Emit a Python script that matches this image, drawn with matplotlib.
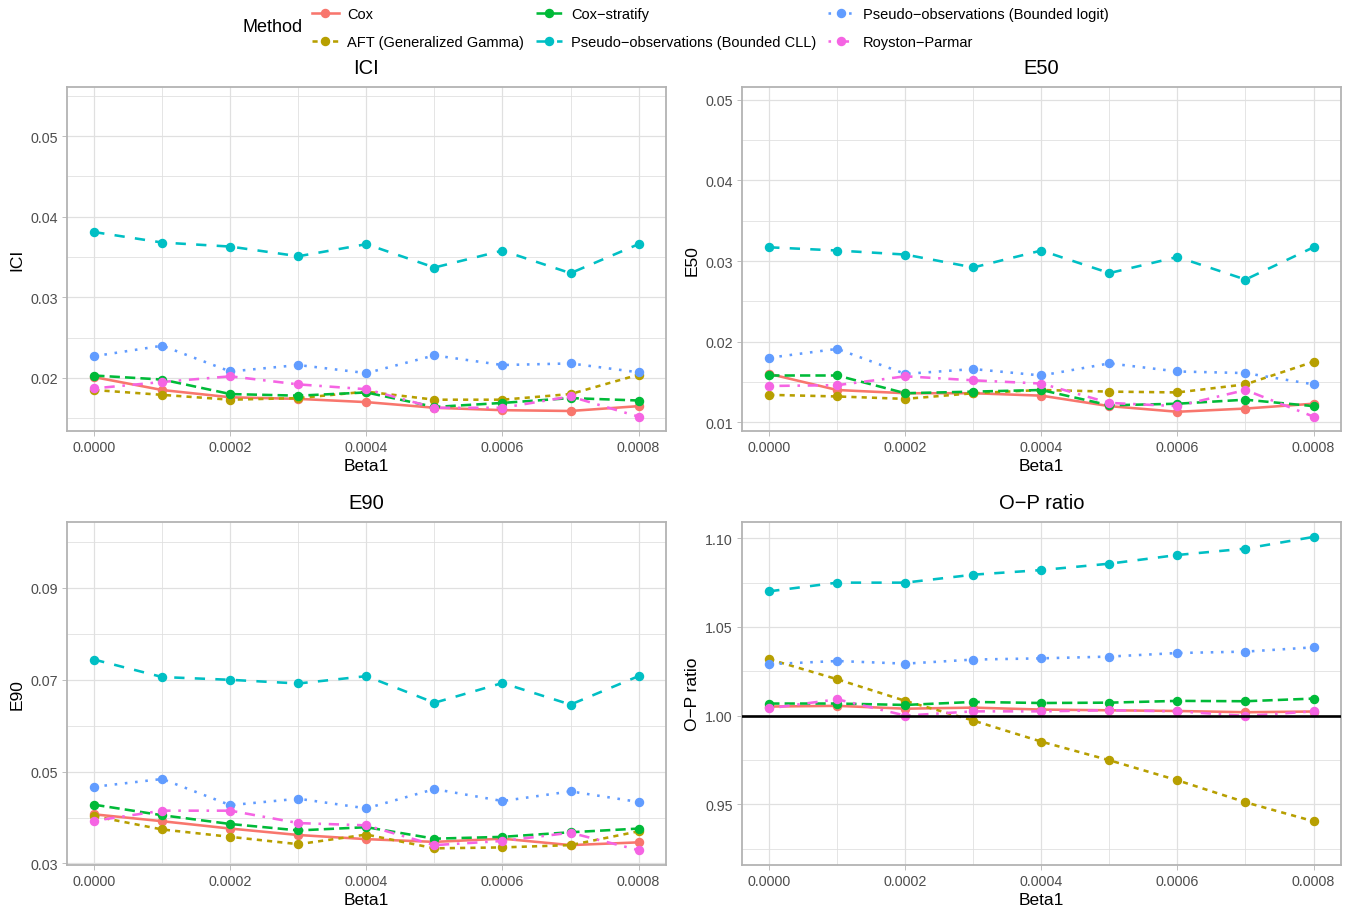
import matplotlib.pyplot as plt
from matplotlib.lines import Line2D
from matplotlib.ticker import MultipleLocator, FormatStrFormatter

plt.rcParams['font.family'] = ['Liberation Sans', 'DejaVu Sans']

# x values (Beta1)
beta1 = [0.0, 0.0001, 0.0002, 0.0003, 0.0004, 0.0005, 0.0006, 0.0007, 0.0008]

methods = ['Cox', 'AFT (Generalized Gamma)', 'Cox\u2212stratify',
           'Pseudo\u2212observations (Bounded CLL)', 'Pseudo\u2212observations (Bounded logit)',
           'Royston\u2212Parmar']
colors = ['#F8766D', '#B79F00', '#00BA38', '#00BFC4', '#619CFF', '#F564E3']
# ggplot default linetypes: solid, 22, 42, 44, 13, 1343
dash_list = [None, (2, 2), (4, 2), (4, 4), (1, 3), (1, 3, 4, 3)]

# rows follow the order of methods
ici = [
    [0.0201, 0.0185, 0.0176, 0.0174, 0.0170, 0.0163, 0.0160, 0.0159, 0.0165],
    [0.0185, 0.0179, 0.0173, 0.0175, 0.0183, 0.0173, 0.0173, 0.0180, 0.0204],
    [0.0203, 0.0198, 0.0180, 0.0178, 0.0182, 0.0164, 0.0169, 0.0175, 0.0172],
    [0.0381, 0.0368, 0.0363, 0.0351, 0.0366, 0.0337, 0.0358, 0.0330, 0.0366],
    [0.0227, 0.0240, 0.0208, 0.0216, 0.0206, 0.0228, 0.0216, 0.0218, 0.0207],
    [0.0187, 0.0195, 0.0202, 0.0192, 0.0186, 0.0163, 0.0163, 0.0177, 0.0152],
]
e50 = [
    [0.0160, 0.0140, 0.0136, 0.0136, 0.0133, 0.0120, 0.0113, 0.0117, 0.0123],
    [0.0134, 0.0132, 0.0129, 0.0136, 0.0140, 0.0138, 0.0137, 0.0147, 0.0175],
    [0.0158, 0.0158, 0.0136, 0.0138, 0.0140, 0.0121, 0.0123, 0.0128, 0.0120],
    [0.0317, 0.0313, 0.0308, 0.0292, 0.0313, 0.0285, 0.0305, 0.0277, 0.0317],
    [0.0180, 0.0191, 0.0160, 0.0166, 0.0158, 0.0173, 0.0163, 0.0161, 0.0147],
    [0.0145, 0.0146, 0.0157, 0.0152, 0.0148, 0.0124, 0.0120, 0.0140, 0.0107],
]
e90 = [
    [0.0407, 0.0392, 0.0376, 0.0362, 0.0353, 0.0347, 0.0354, 0.0340, 0.0346],
    [0.0403, 0.0374, 0.0358, 0.0342, 0.0363, 0.0333, 0.0335, 0.0340, 0.0370],
    [0.0428, 0.0405, 0.0386, 0.0372, 0.0379, 0.0354, 0.0358, 0.0368, 0.0376],
    [0.0744, 0.0706, 0.0700, 0.0692, 0.0708, 0.0650, 0.0693, 0.0646, 0.0708],
    [0.0467, 0.0484, 0.0427, 0.0441, 0.0420, 0.0462, 0.0436, 0.0457, 0.0434],
    [0.0393, 0.0415, 0.0415, 0.0388, 0.0383, 0.0340, 0.0349, 0.0367, 0.0329],
]
op_ratio = [
    [1.0051, 1.0055, 1.0039, 1.0045, 1.0034, 1.0030, 1.0026, 1.0019, 1.0023],
    [1.0318, 1.0205, 1.0083, 0.9972, 0.9853, 0.9748, 0.9635, 0.9511, 0.9404],
    [1.0068, 1.0068, 1.0060, 1.0077, 1.0071, 1.0073, 1.0083, 1.0081, 1.0096],
    [1.0701, 1.0750, 1.0750, 1.0795, 1.0821, 1.0857, 1.0906, 1.0942, 1.1008],
    [1.0290, 1.0308, 1.0293, 1.0316, 1.0323, 1.0333, 1.0353, 1.0361, 1.0385],
    [1.0041, 1.0092, 1.0000, 1.0024, 1.0024, 1.0030, 1.0024, 0.9998, 1.0024],
]

# title, data, y limits, major step, tick offset, axes position
panels = [
    ('ICI', ici, (0.01338, 0.0561), 0.01, 0.0, [0.0496, 0.526, 0.4432, 0.3775]),
    ('E50', e50, (0.00888, 0.05158), 0.01, 0.0, [0.5492, 0.526, 0.4432, 0.3775]),
    ('E90', e90, (0.02974, 0.10444), 0.02, 0.01, [0.0496, 0.0508, 0.4432, 0.3761]),
    ('O\u2212P ratio', op_ratio, (0.9159, 1.1094), 0.05, 0.0, [0.5492, 0.0508, 0.4432, 0.3761]),
]

fig = plt.figure(figsize=(13.51, 9.12), dpi=100)
grid_col = '#E0E0E0'
border_col = '#B3B3B3'
lw = 1.85
ms = 5.8

for title, data, ylim, step, offset, pos in panels:
    ax = fig.add_axes(pos)
    for i in range(len(methods)):
        ls = '-' if dash_list[i] is None else (0, dash_list[i])
        ax.plot(beta1, data[i], color=colors[i], linestyle=ls, lw=lw, zorder=3)
    for i in range(len(methods)):
        ax.plot(beta1, data[i], color=colors[i], linestyle='none', marker='o',
                ms=ms, zorder=4)
    if title.startswith('O'):
        ax.axhline(1.0, color='black', lw=1.9, zorder=5)

    ax.set_xlim(-0.00004, 0.00084)
    ax.set_ylim(*ylim)
    ax.xaxis.set_major_locator(MultipleLocator(0.0002))
    ax.xaxis.set_minor_locator(MultipleLocator(0.0001))
    ax.yaxis.set_major_locator(MultipleLocator(step, offset=offset))
    ax.yaxis.set_minor_locator(MultipleLocator(step / 2, offset=offset))
    ax.xaxis.set_major_formatter(FormatStrFormatter('%.4f'))
    ax.yaxis.set_major_formatter(FormatStrFormatter('%.2f'))
    ax.grid(which='major', color=grid_col, lw=0.9, zorder=0)
    ax.grid(which='minor', color=grid_col, lw=0.6, zorder=0)
    ax.set_axisbelow(True)
    ax.tick_params(which='major', length=3.5, width=0.6, color=border_col,
                   labelsize=10.3, labelcolor='#4D4D4D', pad=3)
    ax.tick_params(which='minor', length=0)
    for sp in ax.spines.values():
        sp.set_color(border_col)
        sp.set_linewidth(1.3)
    ax.set_title(title, fontsize=14.5, pad=10)
    ax.set_xlabel('Beta1', fontsize=12.5, labelpad=3)
    ax.set_ylabel(title, fontsize=12.5, labelpad=4)

# legend on top
handles = []
for i in range(len(methods)):
    ls = '-' if dash_list[i] is None else (0, dash_list[i])
    handles.append(Line2D([0], [0], color=colors[i], linestyle=ls, lw=lw,
                          marker='o', ms=ms))
fig.text(243 / 1351, 1 - 28 / 912, 'Method', fontsize=13, va='center', ha='left')
fig.legend(handles, methods, ncol=3, loc='center left',
           bbox_to_anchor=(305 / 1351, 1 - 29 / 912), frameon=False,
           fontsize=10.5, handlelength=1.8, handletextpad=0.6,
           columnspacing=0.8, labelspacing=0.92, borderpad=0)

fig.savefig('out.png', dpi=100)
